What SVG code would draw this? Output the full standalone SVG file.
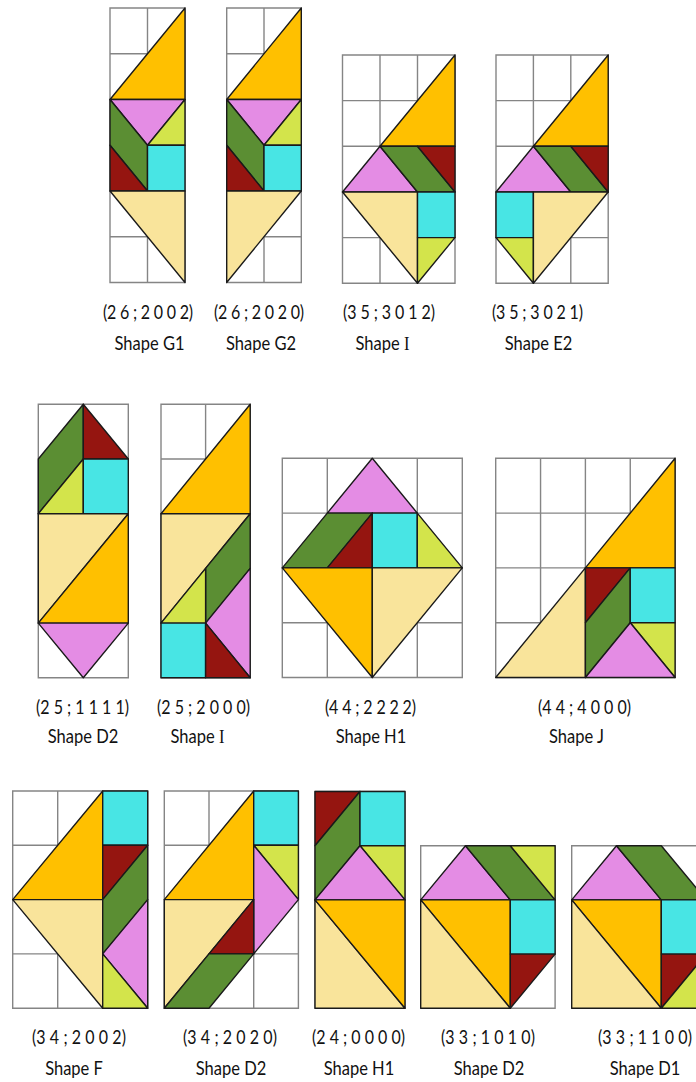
<svg xmlns="http://www.w3.org/2000/svg" width="696" height="1082" viewBox="0 0 696 1082">
<style>
.g{fill:none;stroke:#858585;stroke-width:1.4;vector-effect:non-scaling-stroke}
.p{stroke:#1a1a1a;stroke-width:1.4;stroke-linejoin:round;vector-effect:non-scaling-stroke}
.o{fill:#FFC000}.l{fill:#F9E49B}.k{fill:#E48CE4}.n{fill:#5B8E33}.r{fill:#951510}.c{fill:#48E5E4}.y{fill:#D3E44B}
.t{font-family:Lato,"Liberation Sans",sans-serif;font-size:16px;fill:#111}
.m{font-family:Lato,"Liberation Sans",sans-serif;font-size:16.5px;fill:#111;text-anchor:middle}
.s{font-family:"Liberation Serif",serif}
</style>
<rect width="696" height="1082" fill="#fff"/>

<g id="shapeG1">
<g transform="translate(110,8) scale(37.5,45.75)">
<path class="g" d="M0,0H2V6H0Z M1,0V6 M0,1H2 M0,2H2 M0,3H2 M0,4H2 M0,5H2"/>
<polygon class="p o" points="0,2 2,0 2,2"/>
<polygon class="p k" points="0,2 2,2 1,3"/>
<polygon class="p y" points="1,3 2,2 2,3"/>
<polygon class="p n" points="0,2 1,3 1,4 0,3"/>
<polygon class="p r" points="0,3 1,4 0,4"/>
<polygon class="p c" points="1,3 2,3 2,4 1,4"/>
<polygon class="p l" points="0,4 2,4 2,6"/>
</g>
<text class="t" transform="translate(103,319) scale(1,1.2)" textLength="90">(2 6 ; 2 0 0 2)</text>
<text class="m" transform="translate(149.5,350) scale(1,1.2)">Shape G1</text>
</g>

<g id="shapeG2">
<g transform="translate(226.7,8) scale(37.3,45.75)">
<path class="g" d="M0,0H2V6H0Z M1,0V6 M0,1H2 M0,2H2 M0,3H2 M0,4H2 M0,5H2"/>
<polygon class="p o" points="0,2 2,0 2,2"/>
<polygon class="p k" points="0,2 2,2 1,3"/>
<polygon class="p y" points="1,3 2,2 2,3"/>
<polygon class="p n" points="0,2 1,3 1,4 0,3"/>
<polygon class="p r" points="0,3 1,4 0,4"/>
<polygon class="p c" points="1,3 2,3 2,4 1,4"/>
<polygon class="p l" points="0,4 2,4 0,6"/>
</g>
<text class="t" transform="translate(214,319) scale(1,1.2)" textLength="90">(2 6 ; 2 0 2 0)</text>
<text class="m" transform="translate(261,350) scale(1,1.2)">Shape G2</text>
</g>

<g id="shapeI1">
<g transform="translate(342.5,55) scale(37.5,45.65)">
<path class="g" d="M0,0H3V5H0Z M1,0V5 M2,0V5 M0,1H3 M0,2H3 M0,3H3 M0,4H3"/>
<polygon class="p o" points="1,2 3,0 3,2"/>
<polygon class="p k" points="0,3 1,2 2,3"/>
<polygon class="p n" points="1,2 2,2 3,3 2,3"/>
<polygon class="p r" points="2,2 3,2 3,3"/>
<polygon class="p l" points="0,3 2,3 2,5"/>
<polygon class="p c" points="2,3 3,3 3,4 2,4"/>
<polygon class="p y" points="2,4 3,4 2,5"/>
</g>
<text class="t" transform="translate(343,319) scale(1,1.2)" textLength="92">(3 5 ; 3 0 1 2)</text>
<text class="m" transform="translate(382.5,350) scale(1,1.2)">Shape <tspan class="s">I</tspan></text>
</g>

<g id="shapeE2">
<g transform="translate(496,55) scale(37.4,45.65)">
<path class="g" d="M0,0H3V5H0Z M1,0V5 M2,0V5 M0,1H3 M0,2H3 M0,3H3 M0,4H3"/>
<polygon class="p o" points="1,2 3,0 3,2"/>
<polygon class="p k" points="0,3 1,2 2,3"/>
<polygon class="p n" points="1,2 2,2 3,3 2,3"/>
<polygon class="p r" points="2,2 3,2 3,3"/>
<polygon class="p c" points="0,3 1,3 1,4 0,4"/>
<polygon class="p y" points="0,4 1,4 1,5"/>
<polygon class="p l" points="1,3 3,3 1,5"/>
</g>
<text class="t" transform="translate(492,319) scale(1,1.2)" textLength="91">(3 5 ; 3 0 2 1)</text>
<text class="m" transform="translate(538.5,350) scale(1,1.2)">Shape E2</text>
</g>

<g id="shapeD2a">
<g transform="translate(38.3,404.3) scale(45,54.7)">
<path class="g" d="M0,0H2V5H0Z M1,0V5 M0,1H2 M0,2H2 M0,3H2 M0,4H2"/>
<polygon class="p n" points="0,1 1,0 1,1 0,2"/>
<polygon class="p r" points="1,0 2,1 1,1"/>
<polygon class="p y" points="0,2 1,1 1,2"/>
<polygon class="p c" points="1,1 2,1 2,2 1,2"/>
<polygon class="p l" points="0,2 2,2 0,4"/>
<polygon class="p o" points="2,2 2,4 0,4"/>
<polygon class="p k" points="0,4 2,4 1,5"/>
</g>
<text class="t" transform="translate(36,714) scale(1,1.2)" textLength="93">(2 5 ; 1 1 1 1)</text>
<text class="m" transform="translate(83,743) scale(1,1.2)">Shape D2</text>
</g>

<g id="shapeI2">
<g transform="translate(161,404.3) scale(44.6,54.7)">
<path class="g" d="M0,0H2V5H0Z M1,0V5 M0,1H2 M0,2H2 M0,3H2 M0,4H2"/>
<polygon class="p o" points="0,2 2,0 2,2"/>
<polygon class="p l" points="0,2 2,2 0,4"/>
<polygon class="p n" points="1,3 2,2 2,3 1,4"/>
<polygon class="p y" points="0,4 1,3 1,4"/>
<polygon class="p k" points="1,4 2,3 2,5"/>
<polygon class="p c" points="0,4 1,4 1,5 0,5"/>
<polygon class="p r" points="1,4 2,5 1,5"/>
</g>
<text class="t" transform="translate(157,714) scale(1,1.2)" textLength="93">(2 5 ; 2 0 0 0)</text>
<text class="m" transform="translate(197.5,743) scale(1,1.2)">Shape <tspan class="s">I</tspan></text>
</g>

<g id="shapeH1a">
<g transform="translate(282.3,458.3) scale(45,54.8)">
<path class="g" d="M0,0H4V4H0Z M1,0V4 M2,0V4 M3,0V4 M0,1H4 M0,2H4 M0,3H4"/>
<polygon class="p k" points="1,1 2,0 3,1"/>
<polygon class="p n" points="0,2 1,1 2,1 1,2"/>
<polygon class="p r" points="1,2 2,1 2,2"/>
<polygon class="p c" points="2,1 3,1 3,2 2,2"/>
<polygon class="p y" points="3,1 4,2 3,2"/>
<polygon class="p o" points="0,2 2,2 2,4"/>
<polygon class="p l" points="2,2 4,2 2,4"/>
</g>
<text class="t" transform="translate(325,714) scale(1,1.2)" textLength="91">(4 4 ; 2 2 2 2)</text>
<text class="m" transform="translate(371,743) scale(1,1.2)">Shape H1</text>
</g>

<g id="shapeJ">
<g transform="translate(495.7,458.3) scale(44.85,54.8)">
<path class="g" d="M0,0H4V4H0Z M1,0V4 M2,0V4 M3,0V4 M0,1H4 M0,2H4 M0,3H4"/>
<polygon class="p o" points="2,2 4,0 4,2"/>
<polygon class="p l" points="0,4 2,2 2,4"/>
<polygon class="p r" points="2,2 3,2 2,3"/>
<polygon class="p n" points="2,3 3,2 3,3 2,4"/>
<polygon class="p c" points="3,2 4,2 4,3 3,3"/>
<polygon class="p y" points="3,3 4,3 4,4"/>
<polygon class="p k" points="2,4 3,3 4,4"/>
</g>
<text class="t" transform="translate(538,714) scale(1,1.2)" textLength="93">(4 4 ; 4 0 0 0)</text>
<text class="m" transform="translate(576.5,743) scale(1,1.2)">Shape J</text>
</g>

<g id="shapeF">
<g transform="translate(12.7,791) scale(45,54.3)">
<path class="g" d="M0,0H3V4H0Z M1,0V4 M2,0V4 M0,1H3 M0,2H3 M0,3H3"/>
<polygon class="p o" points="0,2 2,0 2,2"/>
<polygon class="p l" points="0,2 2,2 2,4"/>
<polygon class="p c" points="2,0 3,0 3,1 2,1"/>
<polygon class="p r" points="2,1 3,1 2,2"/>
<polygon class="p n" points="2,2 3,1 3,2 2,3"/>
<polygon class="p k" points="2,3 3,2 3,4"/>
<polygon class="p y" points="2,3 3,4 2,4"/>
</g>
<text class="t" transform="translate(32,1044) scale(1,1.2)" textLength="94">(3 4 ; 2 0 0 2)</text>
<text class="m" transform="translate(74,1075) scale(1,1.2)">Shape F</text>
</g>

<g id="shapeD2b">
<g transform="translate(164.3,791) scale(44.7,54.3)">
<path class="g" d="M0,0H3V4H0Z M1,0V4 M2,0V4 M0,1H3 M0,2H3 M0,3H3"/>
<polygon class="p o" points="0,2 2,0 2,2"/>
<polygon class="p c" points="2,0 3,0 3,1 2,1"/>
<polygon class="p y" points="2,1 3,1 3,2"/>
<polygon class="p k" points="2,1 3,2 2,3"/>
<polygon class="p l" points="0,2 2,2 0,4"/>
<polygon class="p r" points="1,3 2,2 2,3"/>
<polygon class="p n" points="0,4 1,3 2,3 1,4"/>
</g>
<text class="t" transform="translate(183,1044) scale(1,1.2)" textLength="94">(3 4 ; 2 0 2 0)</text>
<text class="m" transform="translate(231,1075) scale(1,1.2)">Shape D2</text>
</g>

<g id="shapeH1b">
<g transform="translate(315,791.5) scale(45,54.2)">
<path class="g" d="M0,0H2V4H0Z M1,0V4 M0,1H2 M0,2H2 M0,3H2"/>
<polygon class="p r" points="0,0 1,0 0,1"/>
<polygon class="p n" points="0,1 1,0 1,1 0,2"/>
<polygon class="p c" points="1,0 2,0 2,1 1,1"/>
<polygon class="p y" points="1,1 2,1 2,2"/>
<polygon class="p k" points="0,2 1,1 2,2"/>
<polygon class="p l" points="0,2 2,4 0,4"/>
<polygon class="p o" points="0,2 2,2 2,4"/>
</g>
<text class="t" transform="translate(312,1044) scale(1,1.2)" textLength="93">(2 4 ; 0 0 0 0)</text>
<text class="m" transform="translate(359,1075) scale(1,1.2)">Shape H1</text>
</g>

<g id="shapeD2c">
<g transform="translate(420.7,845.7) scale(44.8,54.2)">
<path class="g" d="M0,0H3V3H0Z M1,0V3 M2,0V3 M0,1H3 M0,2H3"/>
<polygon class="p k" points="0,1 1,0 2,1"/>
<polygon class="p n" points="1,0 2,0 3,1 2,1"/>
<polygon class="p y" points="2,0 3,0 3,1"/>
<polygon class="p o" points="0,1 2,1 2,3"/>
<polygon class="p l" points="0,1 2,3 0,3"/>
<polygon class="p c" points="2,1 3,1 3,2 2,2"/>
<polygon class="p r" points="2,2 3,2 2,3"/>
</g>
<text class="t" transform="translate(441,1044) scale(1,1.2)" textLength="94">(3 3 ; 1 0 1 0)</text>
<text class="m" transform="translate(489,1075) scale(1,1.2)">Shape D2</text>
</g>

<g id="shapeD1">
<g transform="translate(571.7,845.7) scale(44.8,54.2)">
<path class="g" d="M0,0H3V3H0Z M1,0V3 M2,0V3 M0,1H3 M0,2H3"/>
<polygon class="p k" points="0,1 1,0 2,1"/>
<polygon class="p n" points="1,0 2,0 3,1 2,1"/>
<polygon class="p o" points="0,1 2,1 2,3"/>
<polygon class="p l" points="0,1 2,3 0,3"/>
<polygon class="p c" points="2,1 3,1 3,2 2,2"/>
<polygon class="p r" points="2,2 3,2 2,3"/>
<polygon class="p y" points="2,3 3,2 3,3"/>
</g>
<text class="t" transform="translate(598,1044) scale(1,1.2)" textLength="94">(3 3 ; 1 1 0 0)</text>
<text class="m" transform="translate(645,1075) scale(1,1.2)">Shape D1</text>
</g>
</svg>
